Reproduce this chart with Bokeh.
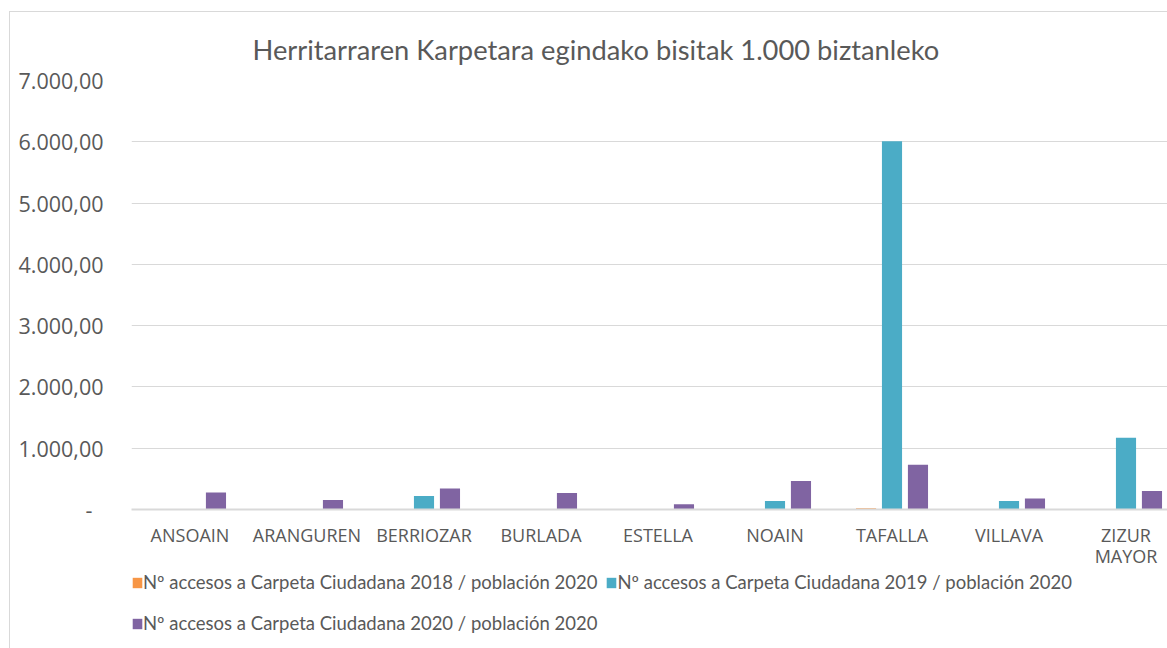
from bokeh.plotting import figure
from bokeh.layouts import column
from bokeh.models import Range1d, FixedTicker, Legend, LegendItem, ColumnDataSource
from bokeh.embed import file_html
from bokeh.resources import INLINE
import numpy as np

categories = ["ANSOAIN", "ARANGUREN", "BERRIOZAR", "BURLADA", "ESTELLA",
              "NOAIN", "TAFALLA", "VILLAVA", "ZIZUR MAYOR"]
series_names = [
    "Nº accesos a Carpeta Ciudadana 2018 / población 2020",
    "Nº accesos a Carpeta Ciudadana 2019 / población 2020",
    "Nº accesos a Carpeta Ciudadana 2020 / población 2020",
]
accesos_2018 = [0, 0, 0, 0, 0, 0, 22, 0, 0]
accesos_2019 = [0, 0, 219, 0, 0, 137, 6010, 137, 1169]
accesos_2020 = [279, 153, 344, 268, 87, 464, 732, 180, 301]
y_ticks = [0, 1000, 2000, 3000, 4000, 5000, 6000, 7000]
y_tick_labels = ["-\u00a0\u00a0", "1.000,00", "2.000,00", "3.000,00",
                 "4.000,00", "5.000,00", "6.000,00", "7.000,00"]

colors = ["#F79646", "#4BACC6", "#8064A2"]
offsets = [-0.222, 0.0, 0.222]
series = [accesos_2018, accesos_2019, accesos_2020]

W = 1157
H_MAIN, H_LEG = 559, 77
left_b, top_b, bottom_b = 121, 68, 59
frame_w = W - left_b
cat_px = 117.0
TEXT = "#595959"

p = figure(width=W, height=H_MAIN, output_backend="svg", toolbar_location=None,
           x_range=Range1d(-0.5, -0.5 + frame_w / cat_px),
           y_range=Range1d(0, 7000),
           min_border_left=left_b, min_border_right=0,
           min_border_top=top_b, min_border_bottom=bottom_b,
           title="Herritarraren Karpetara egindako bisitak 1.000 biztanleko")
p.outline_line_color = None
p.background_fill_color = "white"
p.border_fill_color = "white"

p.title.align = "left"
p.title.text_font = "Lato"
p.title.text_font_size = "27.3px"
p.title.text_font_style = "normal"
p.title.text_color = TEXT
p.title.text_line_height = 1.0
p.title.standoff = 29
p.title.offset = 121

idx = np.arange(len(categories))
for vals, col, off in zip(series, colors, offsets):
    src = ColumnDataSource(dict(x=idx + off, top=vals))
    p.vbar(x="x", top="top", width=0.172, bottom=0, source=src,
           fill_color=col, line_color=None)

p.xaxis.ticker = FixedTicker(ticks=list(idx))
p.xaxis.major_label_overrides = {int(i): c.replace(" ", "\n") for i, c in zip(idx, categories)}
p.xaxis.major_tick_line_color = None
p.xaxis.minor_tick_line_color = None
p.xaxis.major_tick_out = 0
p.xaxis.major_tick_in = 0
p.xaxis.axis_line_color = "#d9d9d9"
p.xaxis.axis_line_width = 2
p.xaxis.major_label_text_font = "Open Sans"
p.xaxis.major_label_text_font_size = "18px"
p.xaxis.major_label_text_line_height = 0.9
p.xaxis.major_label_text_color = TEXT
p.xaxis.major_label_standoff = 13

p.yaxis.ticker = FixedTicker(ticks=y_ticks)
p.yaxis.major_label_overrides = {t: l for t, l in zip(y_ticks, y_tick_labels)}
p.yaxis.major_tick_line_color = None
p.yaxis.minor_tick_line_color = None
p.yaxis.major_tick_out = 0
p.yaxis.major_tick_in = 0
p.yaxis.axis_line_color = None
p.yaxis.major_label_text_font = "Open Sans"
p.yaxis.major_label_text_font_size = "21.5px"
p.yaxis.major_label_text_color = TEXT
p.yaxis.major_label_standoff = 28

p.xgrid.grid_line_color = None
p.ygrid.grid_line_color = "#d9d9d9"
p.ygrid.grid_line_width = 1

# legend strip (its frame is aligned with the main frame by the column layout)
p2 = figure(width=W, height=H_LEG, output_backend="svg", toolbar_location=None,
            x_range=Range1d(0, 1), y_range=Range1d(0, 1),
            x_axis_location=None, y_axis_location=None,
            min_border_left=left_b, min_border_right=0, min_border_top=0, min_border_bottom=0)
p2.outline_line_color = None
p2.xgrid.grid_line_color = None
p2.ygrid.grid_line_color = None
p2.border_fill_color = "white"

leg_renderers = [p2.vbar(x=[-5], top=[0], width=0.1, fill_color=c, line_color=None) for c in colors]
items = [LegendItem(label=n, renderers=[r]) for n, r in zip(series_names, leg_renderers)]


def make_legend(its, loc):
    lg = Legend(items=its, orientation="horizontal", location=loc)
    lg.border_line_color = None
    lg.background_fill_alpha = 0
    lg.glyph_width = 12
    lg.glyph_height = 13
    lg.label_standoff = 0
    lg.label_height = 18
    lg.spacing = 8
    lg.padding = 0
    lg.margin = 0
    lg.label_text_font = "Lato"
    lg.label_text_font_size = "18.5px"
    lg.label_text_color = TEXT
    return lg


p2.add_layout(make_legend(items[:2], (0, 55)), "center")
p2.add_layout(make_legend(items[2:], (0, 14)), "center")

layout = column(p, p2, spacing=0, margin=(11, 0, 0, 9),
                styles={"border-left": "1px solid #d9d9d9", "border-top": "1px solid #d9d9d9"})

open("out.html", "w").write(file_html(layout, INLINE))
